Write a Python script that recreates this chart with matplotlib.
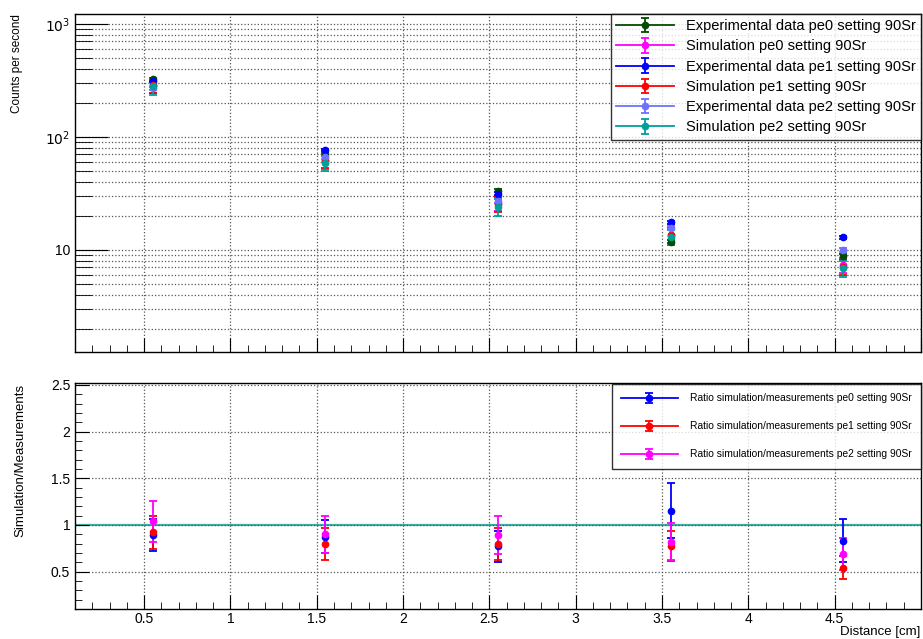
import numpy as np
import matplotlib
matplotlib.use("Agg")
import matplotlib.pyplot as plt
from matplotlib.lines import Line2D
from matplotlib.legend_handler import HandlerTuple
from matplotlib.ticker import MultipleLocator, LogLocator, FixedLocator, NullFormatter

plt.rcParams["font.family"] = ["Liberation Sans", "DejaVu Sans"]

# distances [cm]
dist = [0.55, 1.55, 2.55, 3.55, 4.55]

# counts per second (top panel)
exp_pe0 = [325, 70, 33.5, 11.7, 8.8]
sim_pe0 = [290, 61, 26, 13.5, 7.4]
exp_pe1 = [315, 77, 31.5, 17.5, 13.0]
sim_pe1 = [290, 62, 25.5, 13.5, 7.1]
exp_pe2 = [270, 66, 27, 15.8, 10.0]
sim_pe2 = [280, 59, 24, 13.0, 6.9]

exp_err_pe0 = [10, 2.0, 1.0, 0.6, 0.4]
sim_err_pe0 = [45, 9, 4, 2.0, 1.1]
exp_err_pe1 = [10, 2.0, 1.0, 0.6, 0.4]
sim_err_pe1 = [45, 9, 4, 2.0, 1.1]
exp_err_pe2 = [9, 2.0, 1.0, 0.6, 0.4]
sim_err_pe2 = [45, 9, 4, 2.0, 1.1]

# ratio simulation / measurements (bottom panel)
ratio_pe0 = [0.89, 0.876, 0.77, 1.154, 0.833]
ratio_pe1 = [0.92, 0.80, 0.80, 0.77, 0.544]
ratio_pe2 = [1.04, 0.90, 0.894, 0.82, 0.687]
ratio_err_pe0 = [0.17, 0.18, 0.17, 0.29, 0.23]
ratio_err_pe1 = [0.18, 0.17, 0.17, 0.16, 0.12]
ratio_err_pe2 = [0.22, 0.20, 0.20, 0.20, 0.17]

c_dgreen = "#004c00"
c_mag = "#ff00ff"
c_blue = "#0000ff"
c_red = "#ff0000"
c_lblue = "#7070ff"
c_teal = "#00a09a"

W, H = 923, 639
fig = plt.figure(figsize=(W / 100, H / 100), dpi=100)
ax1 = fig.add_axes([75 / W, 1 - 352 / H, 846 / W, 338 / H])
ax2 = fig.add_axes([75 / W, 1 - 609 / H, 846 / W, 226 / H])

ekw = dict(fmt="o", markersize=4.5, capsize=3, elinewidth=1.3, capthick=1.3)

series = [
    (exp_pe0, exp_err_pe0, c_dgreen, "Experimental data pe0 setting 90Sr"),
    (sim_pe0, sim_err_pe0, c_mag, "Simulation pe0 setting 90Sr"),
    (exp_pe1, exp_err_pe1, c_blue, "Experimental data pe1 setting 90Sr"),
    (sim_pe1, sim_err_pe1, c_red, "Simulation pe1 setting 90Sr"),
    (exp_pe2, exp_err_pe2, c_lblue, "Experimental data pe2 setting 90Sr"),
    (sim_pe2, sim_err_pe2, c_teal, "Simulation pe2 setting 90Sr"),
]
h1, l1 = [], []
for vals, errs, col, lab in series:
    cont = ax1.errorbar(dist, vals, yerr=errs, color=col, **ekw)
    h1.append((Line2D([], [], color=col, lw=1.3), cont))
    l1.append(lab)

ax1.set_yscale("log")
ax1.set_xlim(0.1, 5.0)
ax1.set_ylim(1.25, 1225)
ax1.yaxis.set_major_locator(FixedLocator([10, 100, 1000]))
ax1.yaxis.set_minor_locator(LogLocator(base=10, subs=np.arange(2, 10)))
ax1.yaxis.set_minor_formatter(NullFormatter())
ax1.set_yticklabels(["10", r"$10^2$", r"$10^3$"])
ax1.xaxis.set_major_locator(MultipleLocator(0.5))
ax1.xaxis.set_minor_locator(MultipleLocator(0.1))
ax1.tick_params(axis="x", labelbottom=False)
ax1.grid(True, which="major", color="#555555", linestyle=":", linewidth=0.9)
ax1.grid(True, which="minor", axis="y", color="#555555", linestyle=":", linewidth=0.9)

leg1 = ax1.legend(h1, l1, handler_map={tuple: HandlerTuple(ndivide=1)},
                  loc="upper right", bbox_to_anchor=(1.0, 1.0), fontsize=10.5,
                  frameon=True, fancybox=False, borderaxespad=0,
                  handlelength=4.0, labelspacing=0.43, borderpad=0.35,
                  handletextpad=0.8)
leg1.get_frame().set_edgecolor("black")
leg1.get_frame().set_linewidth(1.0)

ratios = [
    (ratio_pe0, ratio_err_pe0, c_blue, "Ratio simulation/measurements pe0 setting 90Sr"),
    (ratio_pe1, ratio_err_pe1, c_red, "Ratio simulation/measurements pe1 setting 90Sr"),
    (ratio_pe2, ratio_err_pe2, c_mag, "Ratio simulation/measurements pe2 setting 90Sr"),
]
ax2.axhline(1.0, color="#3ab0a6", linewidth=1.6, zorder=1)
h2, l2 = [], []
for vals, errs, col, lab in ratios:
    cont = ax2.errorbar(dist, vals, yerr=errs, color=col, zorder=3, **ekw)
    h2.append((Line2D([], [], color=col, lw=1.3), cont))
    l2.append(lab)

ax2.set_xlim(0.1, 5.0)
ax2.set_ylim(0.1, 2.52)
ax2.xaxis.set_minor_locator(MultipleLocator(0.1))
ax2.yaxis.set_minor_locator(MultipleLocator(0.1))
ax2.set_xticks([0.5, 1, 1.5, 2, 2.5, 3, 3.5, 4, 4.5])
ax2.set_xticklabels(["0.5", "1", "1.5", "2", "2.5", "3", "3.5", "4", "4.5"])
ax2.set_yticks([0.5, 1, 1.5, 2, 2.5])
ax2.set_yticklabels(["0.5", "1", "1.5", "2", "2.5"])
ax2.grid(True, which="major", color="#555555", linestyle=":", linewidth=0.9)

leg2 = ax2.legend(h2, l2, handler_map={tuple: HandlerTuple(ndivide=1)},
                  loc="upper right", bbox_to_anchor=(1.0, 0.995), fontsize=7.4,
                  frameon=True, fancybox=False, borderaxespad=0,
                  handlelength=5.5, labelspacing=1.75, borderpad=0.9,
                  handletextpad=1.2)
leg2.get_frame().set_edgecolor("black")
leg2.get_frame().set_linewidth(1.0)

for ax in (ax1, ax2):
    ax.tick_params(which="both", direction="in", labelsize=10, top=False, right=False)
    ax.tick_params(which="major", length=10)
    ax.tick_params(which="minor", length=5)
    for s in ax.spines.values():
        s.set_linewidth(1.0)
ax1.tick_params(axis="y", which="major", length=24)
ax1.tick_params(axis="y", which="minor", length=12)
ax2.tick_params(axis="x", pad=2)

fig.text(17 / W, 1 - 14 / H, "Counts per second", rotation=90, ha="center", va="top", fontsize=8.5)
fig.text(20 / W, 1 - 384 / H, "Simulation/Measurements", rotation=90, ha="center", va="top", fontsize=9.5)
fig.text(920 / W, 1 - 632 / H, "Distance [cm]", ha="right", va="center", fontsize=9.5)

fig.savefig("out.png", dpi=100)
